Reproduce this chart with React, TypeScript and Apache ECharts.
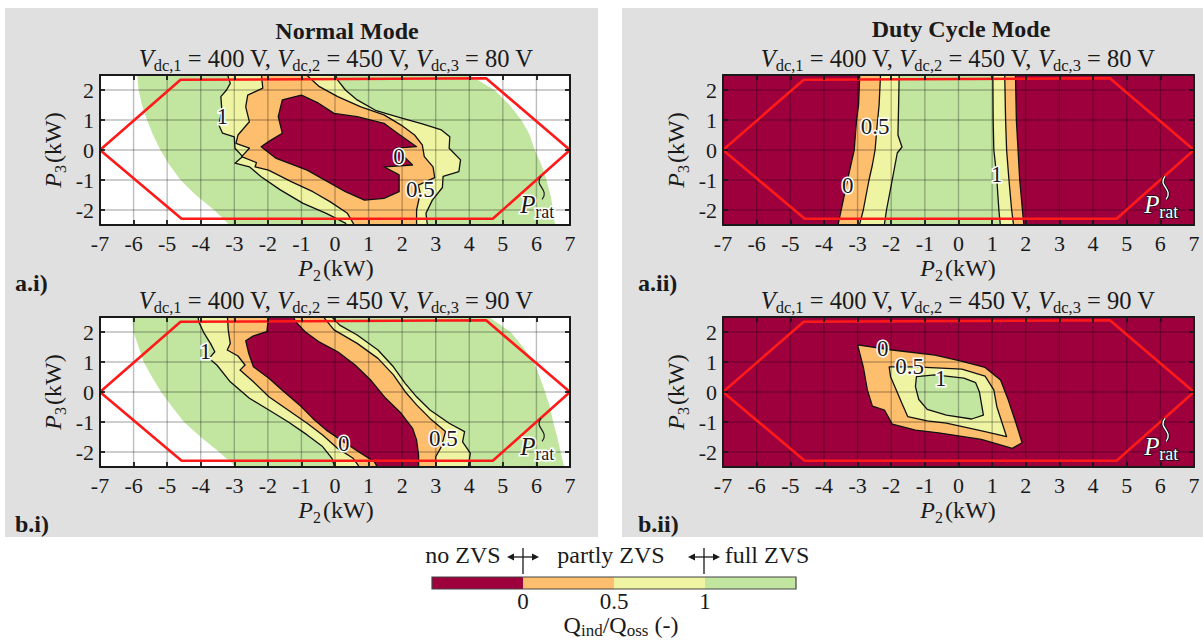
import React, { useEffect, useRef } from 'react';
import * as echarts from 'echarts';

const FONT = '"Liberation Serif", "Times New Roman", Times, serif';
const INK = '#1a1a1a';

const C_NO = '#9e003e';
const C_HALF = '#fdbe6e';
const C_PART = '#eef4a2';
const C_FULL = '#c2e5a0';

const yTickValues = [-2, -1, 0, 1, 2];
const gridLineX = [-6, -5, -4, -3, -2, -1, 0, 1, 2, 3, 4, 5, 6];
const gridLineY = [-2, -1, 0, 1, 2];
const plotDomain = [[-7.2, -2.7], [7.2, -2.7], [7.2, 2.7], [-7.2, 2.7]];

const ratedPowerHexagon = [[-7, 0], [-4.6, 2.34], [4.5, 2.39], [7, 0], [4.7, -2.29], [-4.57, -2.29], [-7, 0]];
const pratLabelPos = [5.52, -1.83];
const pratSquiggleAnchor = [6.14, -0.88];

// ---- a.i) Normal mode, Vdc3 = 80 V
const normal80Full = [[-5.9, 2.6], [-5.85, 2], [-5.75, 1.5], [-5.6, 1], [-5.42, 0.5], [-5.2, 0], [-4.93, -0.5], [-4.6, -1], [-4.15, -1.5], [-3.6, -2], [-3.05, -2.6], [6.56, -2.6], [6.5, -2], [6.42, -1.5], [6.3, -1], [6.15, -0.5], [5.95, 0], [5.8, 0.5], [5.55, 1], [5.2, 1.5], [4.75, 2], [4.3, 2.3], [3.85, 2.6]];
const normal80Partly = [[-3.23, 2.61], [-3.12, 2.22], [-3.23, 2.0], [-3.4, 1.78], [-3.37, 1.33], [-3.46, 0.83], [-3.35, 0.56], [-3.0, 0.44], [-2.98, 0.06], [-2.75, -0.22], [-2.98, -0.44], [-2.55, -0.56], [-2.2, -0.89], [-1.63, -1.33], [-0.95, -1.78], [-0.26, -2.11], [0.31, -2.44], [0.43, -2.67], [2.77, -2.67], [2.71, -2.11], [2.9, -1.67], [3.2, -1.25], [3.22, -0.88], [3.69, -0.72], [3.74, -0.33], [3.4, 0.06], [3.42, 0.44], [3.17, 0.67], [2.6, 0.87], [1.91, 1.09], [1.23, 1.31], [0.66, 1.67], [0.31, 2.0], [0.08, 2.33], [-0.03, 2.61]];
const normal80Half = [[-2.2, 2.61], [-2.15, 2.06], [-2.6, 1.83], [-2.66, 1.44], [-2.55, 0.94], [-2.89, 0.5], [-2.95, 0.22], [-2.55, 0.06], [-2.78, -0.22], [-2.34, -0.42], [-2.38, -0.56], [-1.98, -0.67], [-1.29, -1.06], [-0.66, -1.39], [-0.15, -1.72], [0.37, -2.11], [0.66, -2.67], [2.43, -2.67], [2.43, -2.0], [2.54, -1.44], [2.48, -1.17], [2.97, -0.92], [2.92, -0.56], [2.66, -0.22], [2.6, 0.17], [2.37, 0.5], [1.97, 0.83], [1.46, 1.17], [0.77, 1.44], [0.08, 1.78], [-0.49, 2.13], [-0.95, 2.61]];
const normal80None = [[-1.57, 1.67], [-1.0, 1.83], [-0.49, 1.56], [-0.03, 1.22], [0.66, 1.11], [1.46, 0.89], [1.8, 0.61], [2.43, 0.11], [1.8, 0.06], [2.31, -0.5], [1.46, -0.56], [1.91, -0.83], [1.91, -1.39], [1.46, -1.61], [0.88, -1.67], [0.31, -1.39], [-0.83, -0.67], [-1.75, -0.28], [-2.2, 0.11], [-1.98, 0.28], [-1.57, 0.56], [-1.69, 1.11]];
const normal80Labels: [number, number, string][] = [[-3.35, 1.11, '1'], [1.91, -0.22, '0'], [2.54, -1.33, '0.5']];

// ---- b.i) Normal mode, Vdc3 = 90 V
const normal90Full = [[-6.05, 2.6], [-6.0, 2], [-5.85, 1.5], [-5.7, 1], [-5.45, 0.5], [-5.18, 0], [-4.85, -0.5], [-4.5, -1], [-4.0, -1.5], [-3.45, -2], [-2.85, -2.6], [6.85, -2.6], [6.72, -2], [6.62, -1.5], [6.5, -1], [6.4, -0.5], [6.26, 0], [6.1, 0.5], [5.92, 1], [5.6, 1.5], [5.23, 2], [4.45, 2.6]];
const normal90Partly = [[-4.09, 2.62], [-4.06, 2.34], [-3.9, 1.96], [-3.71, 1.62], [-3.58, 1.34], [-3.75, 1.12], [-3.52, 0.9], [-3.12, 0.34], [-2.55, -0.21], [-1.97, -0.6], [-1.4, -0.99], [-0.83, -1.43], [-0.37, -1.82], [-0.09, -2.21], [0.03, -2.66], [3.95, -2.66], [4.03, -2.04], [3.8, -1.66], [3.86, -1.32], [3.4, -1.04], [2.83, -0.6], [2.43, -0.16], [2.09, 0.29], [1.74, 0.84], [1.28, 1.4], [0.66, 1.9], [0.14, 2.23], [-0.2, 2.62]];
const normal90Half = [[-3.21, 2.62], [-3.18, 2.07], [-3.12, 1.62], [-3.21, 1.4], [-2.89, 1.2], [-2.68, 0.9], [-2.83, 0.73], [-2.43, 0.34], [-1.97, -0.16], [-1.4, -0.6], [-0.83, -1.04], [-0.37, -1.43], [0.08, -1.88], [0.54, -2.21], [0.83, -2.66], [3.0, -2.66], [3.0, -2.16], [3.17, -1.82], [3.29, -1.32], [2.83, -0.88], [2.43, -0.43], [2.09, 0.01], [1.74, 0.57], [1.28, 1.12], [0.66, 1.62], [-0.03, 2.07], [-0.43, 2.62]];
const normal90None = [[-1.97, 2.62], [-2.03, 2.01], [-2.43, 1.87], [-2.66, 1.71], [-2.57, 1.29], [-2.43, 0.84], [-1.97, 0.46], [-1.52, 0.01], [-1.06, -0.43], [-0.66, -0.88], [-0.26, -1.27], [0.25, -1.66], [0.77, -2.04], [1.17, -2.32], [1.34, -2.66], [2.49, -2.66], [2.49, -2.1], [2.43, -1.6], [2.31, -1.21], [1.97, -0.71], [1.51, -0.21], [1.06, 0.4], [0.6, 0.9], [0.08, 1.34], [-0.49, 1.68], [-0.89, 2.01], [-1.17, 2.34], [-1.29, 2.62]];
const normal90Labels: [number, number, string][] = [[-3.86, 1.34, '1'], [0.26, -1.71, '0'], [3.23, -1.54, '0.5']];

// ---- a.ii) Duty cycle mode, Vdc3 = 80 V (contour lines, top to bottom)
const duty80ZeroLeft = [[-2.93, 2.7], [-2.97, 1.5], [-3.03, 1], [-3.1, 0], [-3.2, -0.5], [-3.3, -1], [-3.45, -1.8], [-3.62, -2.7]];
const duty80ZeroRight = [[1.69, 2.7], [1.72, 1], [1.77, 0], [1.82, -1], [1.9, -2], [1.96, -2.7]];
const duty80HalfLeft = [[-2.31, 2.7], [-2.36, 1.5], [-2.42, 0.8], [-2.48, 0], [-2.56, -0.5], [-2.66, -1], [-2.83, -2], [-2.99, -2.7]];
const duty80HalfRight = [[1.37, 2.7], [1.4, 1], [1.43, 0], [1.5, -1], [1.58, -2], [1.66, -2.7]];
const duty80OneLeft = [[-1.76, 2.7], [-1.78, 1.5], [-1.8, 0.5], [-1.68, 0.1], [-1.82, -0.1], [-1.97, -1], [-2.14, -2], [-2.23, -2.7]];
const duty80OneRight = [[1.02, 2.7], [1.03, 1], [1.05, 0], [1.1, -0.5], [1.14, -1], [1.2, -2], [1.26, -2.7]];
const duty80Corner = [[-7.2, -2.28], [-6.75, -2.7], [-7.2, -2.7]];
const duty80Labels: [number, number, string][] = [[-2.48, 0.78, '0.5'], [-3.29, -1.17, '0'], [1.14, -0.83, '1']];

// ---- b.ii) Duty cycle mode, Vdc3 = 90 V
const duty90Half = [[-3.0, 1.57], [-1.97, 1.4], [-0.7, 1.23], [0.05, 1.04], [0.79, 0.82], [1.25, 0.4], [1.48, -0.27], [1.71, -1.04], [1.89, -1.69], [1.6, -1.88], [0.68, -1.58], [-0.59, -1.36], [-1.28, -1.27], [-1.97, -1.07], [-2.2, -0.6], [-2.56, -0.47], [-2.71, 0.07], [-2.83, 0.84]];
const duty90Partly = [[-2.06, 0.84], [-1.28, 0.84], [0.1, 0.76], [0.79, 0.53], [1.05, 0.07], [1.14, -0.49], [1.43, -1.49], [0.79, -1.32], [-0.36, -1.04], [-0.93, -0.96], [-1.51, -0.82], [-1.68, -0.38], [-1.85, 0.07], [-2.02, 0.51]];
const duty90Full = [[-1.25, 0.51], [-0.7, 0.57], [0.16, 0.46], [0.51, 0.31], [0.62, 0.01], [0.74, -0.77], [0.39, -0.9], [-0.36, -0.77], [-0.93, -0.58], [-1.18, -0.25], [-1.28, 0.18]];
const duty90Labels: [number, number, string][] = [[-2.25, 1.46, '0'], [-1.45, 0.84, '0.5'], [-0.53, 0.46, '1']];

// ---- colour bar
const colorbarBounds = [-0.5, 0, 0.5, 1, 1.5];
const colorbarColors = [C_NO, C_HALF, C_PART, C_FULL];
const colorbarTicks = [0, 0.5, 1];

const band = (left: number[][], right: number[][]) => [...left, ...right.slice().reverse()];

type Region = { pts: number[][]; fill: string; edge: boolean };
type Panel = { rect: any; base: string; regions: Region[]; labels: [number, number, string][]; dark: boolean };

const panels: Panel[] = [
  {
    rect: { left: 100, top: 75, width: 470, height: 150 }, base: '#ffffff', dark: false, labels: normal80Labels,
    regions: [
      { pts: normal80Full, fill: C_FULL, edge: false },
      { pts: normal80Partly, fill: C_PART, edge: true },
      { pts: normal80Half, fill: C_HALF, edge: true },
      { pts: normal80None, fill: C_NO, edge: true },
    ],
  },
  {
    rect: { left: 723, top: 75, width: 471, height: 150 }, base: C_NO, dark: true, labels: duty80Labels,
    regions: [
      { pts: band(duty80ZeroLeft, duty80ZeroRight), fill: C_HALF, edge: true },
      { pts: band(duty80HalfLeft, duty80HalfRight), fill: C_PART, edge: true },
      { pts: band(duty80OneLeft, duty80OneRight), fill: C_FULL, edge: true },
      { pts: duty80Corner, fill: C_HALF, edge: true },
    ],
  },
  {
    rect: { left: 100, top: 317, width: 470, height: 150 }, base: '#ffffff', dark: false, labels: normal90Labels,
    regions: [
      { pts: normal90Full, fill: C_FULL, edge: false },
      { pts: normal90Partly, fill: C_PART, edge: true },
      { pts: normal90Half, fill: C_HALF, edge: true },
      { pts: normal90None, fill: C_NO, edge: true },
    ],
  },
  {
    rect: { left: 723, top: 317, width: 471, height: 150 }, base: C_NO, dark: true, labels: duty90Labels,
    regions: [
      { pts: duty90Half, fill: C_HALF, edge: true },
      { pts: duty90Partly, fill: C_PART, edge: true },
      { pts: duty90Full, fill: C_FULL, edge: true },
    ],
  },
];

let measureCtx: CanvasRenderingContext2D | null = null;
function textWidth(text: string, font: string) {
  if (!measureCtx) measureCtx = document.createElement('canvas').getContext('2d');
  if (!measureCtx) return text.length * 10;
  measureCtx.font = font;
  return measureCtx.measureText(text).width;
}

type Run = { t: string; it?: boolean; sub?: boolean; b?: boolean; gap?: number };
function richLine(runs: Run[], cx: number, cy: number, size: number, subSize: number, rotation = 0, subDrop = 0.32) {
  const fonts = runs.map(r => `${r.it ? 'italic ' : ''}${r.b ? 'bold ' : ''}${r.sub ? subSize : size}px ${FONT}`);
  const widths = runs.map((r, i) => textWidth(r.t, fonts[i]) + (r.gap || 0));
  const total = widths.reduce((a, b) => a + b, 0);
  let x = -total / 2;
  const children = runs.map((r, i) => {
    const el = {
      type: 'text', x: x + (r.gap || 0), y: r.sub ? size * subDrop : 0,
      style: { text: r.t, font: fonts[i], fill: INK, align: 'left', verticalAlign: 'middle' },
    };
    x += widths[i];
    return el;
  });
  return { type: 'group', x: cx, y: cy, rotation, children };
}

function plainText(text: string, x: number, y: number, size: number, bold = false, align = 'center') {
  return {
    type: 'text', x, y,
    style: { text, font: `${bold ? 'bold ' : ''}${size}px ${FONT}`, fill: INK, align, verticalAlign: 'middle' },
  };
}

function vdcRuns(v3: string): Run[] {
  return [
    { t: 'V', it: true }, { t: 'dc,1', sub: true }, { t: ' = 400 V, ' },
    { t: 'V', it: true }, { t: 'dc,2', sub: true }, { t: ' = 450 V, ' },
    { t: 'V', it: true }, { t: 'dc,3', sub: true }, { t: ` = ${v3} V` },
  ];
}

function arrowMarker(cx: number) {
  const y = 557;
  return [
    { type: 'line', shape: { x1: cx - 13, y1: y, x2: cx + 13, y2: y }, style: { stroke: INK, lineWidth: 1.3 } },
    { type: 'polygon', shape: { points: [[cx - 16, y], [cx - 9, y - 3.5], [cx - 9, y + 3.5]] }, style: { fill: INK } },
    { type: 'polygon', shape: { points: [[cx + 16, y], [cx + 9, y - 3.5], [cx + 9, y + 3.5]] }, style: { fill: INK } },
    { type: 'line', shape: { x1: cx, y1: 548, x2: cx, y2: 574 }, style: { stroke: INK, lineWidth: 1.3 } },
  ];
}

function buildOption() {
  const lineStyle = { color: INK, width: 2 };
  const tickStyle = { color: INK, width: 1.8 };
  const labelStyle = { color: INK, fontSize: 22, fontFamily: FONT, lineHeight: 20 };
  const grids: any[] = [];
  const xAxes: any[] = [];
  const yAxes: any[] = [];
  const series: any[] = [];

  panels.forEach((p, i) => {
    grids.push({ ...p.rect, containLabel: false, outerBoundsMode: 'none' });
    ['bottom', 'top'].forEach(pos => xAxes.push({
      gridIndex: i, type: 'value', min: -7, max: 7, interval: 1, position: pos, z: 10,
      axisLine: { show: true, onZero: false, lineStyle },
      axisTick: { show: true, inside: true, length: 5, lineStyle: tickStyle },
      axisLabel: { show: pos === 'bottom', margin: 8, showMinLabel: true, showMaxLabel: true, ...labelStyle },
      splitLine: { show: false },
    }));
    ['left', 'right'].forEach(pos => yAxes.push({
      gridIndex: i, type: 'value', min: -2.5, max: 2.5, interval: 0.5, position: pos, z: 10,
      axisLine: { show: true, onZero: false, lineStyle },
      axisTick: { show: true, inside: true, length: 5, customValues: yTickValues, lineStyle: tickStyle },
      axisLabel: { show: pos === 'left', margin: 6, customValues: yTickValues, ...labelStyle },
      splitLine: { show: false },
    }));
    const ax = { xAxisIndex: 2 * i, yAxisIndex: 2 * i };
    const regions: Region[] = [{ pts: plotDomain, fill: p.base, edge: false }, ...p.regions];
    series.push({
      type: 'custom', ...ax, clip: true, z: 2, silent: true,
      data: regions.map(() => [0, 0]),
      renderItem: (params: any, api: any) => {
        const r = regions[params.dataIndex];
        return {
          type: 'polygon',
          shape: { points: r.pts.map(pt => api.coord(pt)) },
          style: { fill: r.fill, stroke: r.edge ? '#111' : 'none', lineWidth: r.edge ? 1.3 : 0, lineJoin: 'round' },
        };
      },
    });
    const gl = [...gridLineX.map(v => ['v', v]), ...gridLineY.map(v => ['h', v])] as [string, number][];
    series.push({
      type: 'custom', ...ax, clip: true, z: 3, silent: true,
      data: gl.map(() => [0, 0]),
      renderItem: (params: any, api: any) => {
        const [k, v] = gl[params.dataIndex];
        const a = k === 'v' ? api.coord([v, -2.5]) : api.coord([-7, v]);
        const b = k === 'v' ? api.coord([v, 2.5]) : api.coord([7, v]);
        return {
          type: 'line', shape: { x1: a[0], y1: a[1], x2: b[0], y2: b[1] },
          style: { stroke: 'rgba(0,0,0,0.26)', lineWidth: 1.4 },
        };
      },
    });
    series.push({
      type: 'line', ...ax, z: 4, silent: true, symbol: 'none', clip: false,
      data: ratedPowerHexagon, lineStyle: { color: '#ff1a1a', width: 2.6 },
    });
    series.push({
      type: 'custom', ...ax, clip: false, z: 5, silent: true,
      data: p.labels.map(l => [l[0], l[1]]),
      renderItem: (params: any, api: any) => {
        const l = p.labels[params.dataIndex];
        const c = api.coord([l[0], l[1]]);
        return {
          type: 'text', x: c[0], y: c[1],
          style: { text: l[2], font: `23px ${FONT}`, fill: INK, stroke: '#ffffff', lineWidth: 3, align: 'center', verticalAlign: 'middle' },
        };
      },
    });
    series.push({
      type: 'custom', ...ax, clip: false, z: 6, silent: true,
      data: [pratLabelPos],
      renderItem: (params: any, api: any) => {
        const a = api.coord(pratSquiggleAnchor);
        const t = api.coord(pratLabelPos);
        const curve = { x1: a[0], y1: a[1], cpx1: a[0] - 8, cpy1: a[1] + 9, cpx2: a[0] + 9, cpy2: a[1] + 13, x2: a[0] + 1, y2: a[1] + 23 };
        const fill = p.dark ? '#ffffff' : INK;
        const halo = p.dark ? '#111' : '#ffffff';
        const children: any[] = [];
        if (p.dark) children.push({ type: 'bezierCurve', shape: curve, style: { stroke: '#111', lineWidth: 3.2, fill: 'none' } });
        children.push({ type: 'bezierCurve', shape: curve, style: { stroke: fill, lineWidth: p.dark ? 1.4 : 1.2, fill: 'none' } });
        children.push({ type: 'text', x: t[0], y: t[1], style: { text: 'P', font: `italic 25px ${FONT}`, fill, stroke: halo, lineWidth: p.dark ? 1.6 : 3, align: 'left', verticalAlign: 'middle' } });
        children.push({ type: 'text', x: t[0] + 15, y: t[1] + 7, style: { text: 'rat', font: `18px ${FONT}`, fill, stroke: halo, lineWidth: p.dark ? 1.6 : 3, align: 'left', verticalAlign: 'middle' } });
        return { type: 'group', children };
      },
    });
  });

  // colour bar
  grids.push({ left: 432, top: 577, width: 364, height: 12, containLabel: false, outerBoundsMode: 'none' });
  xAxes.push({
    gridIndex: 4, type: 'value', min: -0.5, max: 1.5, interval: 0.5,
    axisLine: { show: false }, axisTick: { show: false }, splitLine: { show: false },
    axisLabel: { customValues: colorbarTicks, margin: 2, color: INK, fontSize: 23, fontFamily: FONT, lineHeight: 20 },
  });
  yAxes.push({ gridIndex: 4, type: 'value', min: 0, max: 1, show: false });
  const cbItems = colorbarColors.length + 1;
  series.push({
    type: 'custom', xAxisIndex: 8, yAxisIndex: 8, z: 2, silent: true,
    data: Array.from({ length: cbItems }, () => [0, 0]),
    renderItem: (params: any, api: any) => {
      const i = params.dataIndex;
      if (i === colorbarColors.length) {
        const a = api.coord([colorbarBounds[0], 1]);
        const b = api.coord([colorbarBounds[colorbarBounds.length - 1], 0]);
        return { type: 'rect', shape: { x: a[0], y: a[1], width: b[0] - a[0], height: b[1] - a[1] }, style: { fill: 'none', stroke: '#444', lineWidth: 1.2 } };
      }
      const a = api.coord([colorbarBounds[i], 1]);
      const b = api.coord([colorbarBounds[i + 1], 0]);
      return { type: 'rect', shape: { x: a[0], y: a[1], width: b[0] - a[0], height: b[1] - a[1] }, style: { fill: colorbarColors[i] } };
    },
  });

  const pName = (n: string): Run[] => [{ t: 'P', it: true }, { t: n, sub: true }, { t: '(kW)', gap: 2 }];
  const elements: any[] = [
    plainText('Normal Mode', 347, 31, 24, true),
    plainText('Duty Cycle Mode', 961, 29, 24, true),
    richLine(vdcRuns('80'), 336, 58, 24.5, 16.5),
    richLine(vdcRuns('80'), 958, 58, 24.5, 16.5),
    richLine(vdcRuns('90'), 336, 300, 24.5, 16.5),
    richLine(vdcRuns('90'), 958, 300, 24.5, 16.5),
    richLine(pName('2'), 336, 268, 24, 16),
    richLine(pName('2'), 958, 268, 24, 16),
    richLine(pName('2'), 336, 510, 24, 16),
    richLine(pName('2'), 958, 510, 24, 16),
    richLine(pName('3'), 53, 150, 24, 16, Math.PI / 2),
    richLine(pName('3'), 676, 150, 24, 16, Math.PI / 2),
    richLine(pName('3'), 53, 392, 24, 16, Math.PI / 2),
    richLine(pName('3'), 676, 392, 24, 16, Math.PI / 2),
    plainText('a.i)', 15, 283, 24, true, 'left'),
    plainText('b.i)', 15, 524, 24, true, 'left'),
    plainText('a.ii)', 638, 283, 24, true, 'left'),
    plainText('b.ii)', 638, 524, 24, true, 'left'),
    plainText('no ZVS', 463, 555, 24),
    plainText('partly ZVS', 611, 555, 24),
    plainText('full ZVS', 767, 555, 24),
    ...arrowMarker(523),
    ...arrowMarker(704),
    richLine([{ t: 'Q' }, { t: 'ind', sub: true }, { t: '/Q' }, { t: 'oss', sub: true }, { t: ' (-)' }], 621, 625, 24, 17, 0, 0.22),
  ];

  return {
    animation: false,
    backgroundColor: 'transparent',
    grid: grids,
    xAxis: xAxes,
    yAxis: yAxes,
    series,
    graphic: { elements },
  };
}

export default function App() {
  const ref = useRef<HTMLDivElement>(null);
  useEffect(() => {
    if (!ref.current) return;
    const chart = echarts.init(ref.current, undefined, { renderer: 'svg', width: 1203, height: 641 });
    chart.setOption(buildOption() as any);
    return () => chart.dispose();
  }, []);
  return (
    <div style={{ position: 'fixed', left: 0, top: 0, width: 1203, height: 641, background: '#ffffff' }}>
      <div style={{ position: 'absolute', left: 5, top: 8, width: 593, height: 529, background: '#e0e0e0' }} />
      <div style={{ position: 'absolute', left: 622, top: 8, width: 581, height: 529, background: '#e0e0e0' }} />
      <div ref={ref} style={{ position: 'absolute', left: 0, top: 0, width: 1203, height: 641 }} />
    </div>
  );
}
